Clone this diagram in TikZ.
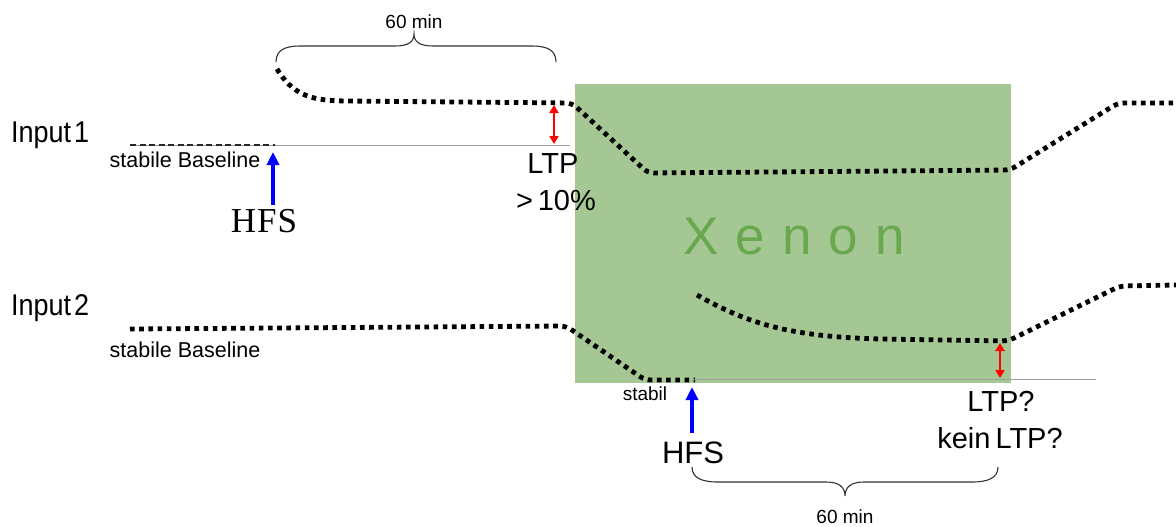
\documentclass[tikz,border=0pt]{standalone}
\usepackage{fontspec}
\setmainfont{Liberation Sans}
\newfontfamily\hfsfont{Liberation Serif}
\newfontfamily\narrowsans{Liberation Sans}[FakeStretch=0.9]
\usetikzlibrary{arrows.meta}

\definecolor{xenonfill}{RGB}{164,199,148}
\definecolor{xenontext}{RGB}{106,168,80}
\definecolor{refline}{RGB}{160,160,160}

\tikzset{
  trace/.style={line width=4.8pt, dash pattern=on 4.6pt off 4.6pt, black, rounded corners=6pt},
  finedots/.style={line width=2.6pt, dash pattern=on 6pt off 3.5pt, black!85},
  refbase/.style={draw=refline, line width=1pt},
  hfsarrow/.style={draw=blue, line width=3.4pt, -{Triangle[length=13pt,width=12pt]}},
  ltparrow/.style={draw=red, line width=2.6pt, {Triangle[length=8pt,width=9pt]}-{Triangle[length=8pt,width=9pt]}},
  bracket/.style={draw=black!80, line width=1.1pt},
  inputlbl/.style={font=\narrowsans\fontsize{30}{34}\selectfont, inner sep=0pt, anchor=west},
  biglbl/.style={font=\fontsize{29}{35}\selectfont, inner sep=0pt},
  smalllbl/.style={font=\fontsize{21.5}{24}\selectfont, inner sep=0pt},
  timelbl/.style={font=\fontsize{19}{22}\selectfont, inner sep=0pt}
}

\begin{document}
\begin{tikzpicture}[x=1pt,y=-1pt]
\useasboundingbox (0,0) rectangle (1176,527);

% Xenon application window
\fill[xenonfill] (575,84) rectangle (1011,383);
\node[font=\fontsize{53}{60}\selectfont, text=xenontext, inner sep=0pt] (xenon) at (794,237)
  {X\hspace{17pt}e\hspace{17pt}n\hspace{17pt}o\hspace{17pt}n};

% ---------- Input 1 ----------
\node[inputlbl] (in1) at (11,135) {Input\hspace{3pt}1};
\coordinate (b1s) at (130,145);
\coordinate (b1h) at (275,145);
\coordinate (b1e) at (570,145);
\draw[refbase] (b1s) -- (b1e);
\draw[finedots] (b1s) -- (b1h);
\node[smalllbl] (stab1) at (185,160) {stabile Baseline};

% response of input 1
\coordinate (t1a) at (277,69);
\coordinate (t1b) at (345,101);
\coordinate (t1c) at (572,103);
\coordinate (t1d) at (648,173);
\coordinate (t1e) at (1010,170);
\coordinate (t1f) at (1118,103);
\coordinate (t1g) at (1176,103);
\draw[trace] (t1a) .. controls (292,94) and (310,100) .. (t1b) -- (t1c) -- (t1d) -- (t1e) -- (t1f) -- (t1g);

% HFS on input 1
\node[font=\hfsfont\fontsize{35}{38}\selectfont, inner sep=0pt] (hfs1) at (264,221) {H\hspace{1pt}F\hspace{1pt}S};
\coordinate (h1top) at (273,152);
\coordinate (h1bot) at (273,205);
\draw[hfsarrow] (h1bot) -- (h1top);

% LTP magnitude on input 1
\coordinate (l1top) at (554,105);
\coordinate (l1bot) at (554,144);
\draw[ltparrow] (l1top) -- (l1bot);
\node[biglbl] (ltp1) at (553,164) {LTP};
\node[biglbl] (pct1) at (556,201) {>\,10\%};

% 60 min bracket above input 1
\coordinate (br1l) at (276,62);
\coordinate (br1r) at (556,62);
\coordinate (br1t) at (414,34);
\draw[bracket] (br1l) .. controls (276,50) and (285,46) .. (300,46) -- (395,46)
  .. controls (408,46) and (414,42) .. (br1t)
  .. controls (414,42) and (420,46) .. (433,46) -- (532,46)
  .. controls (547,46) and (556,50) .. (br1r);
\node[timelbl] (min1) at (414,22) {60 min};

% ---------- Input 2 ----------
\node[inputlbl] (in2) at (11,308) {Input\hspace{3pt}2};
\node[smalllbl] (stab2) at (185,350) {stabile Baseline};

\coordinate (t2a) at (130,329);
\coordinate (t2b) at (566,326);
\coordinate (t2c) at (645,380);
\coordinate (t2d) at (695,380);
\draw[trace] (t2a) -- (t2b) -- (t2c) -- (t2d);

\coordinate (b2s) at (692,379);
\coordinate (b2e) at (1096,379);
\draw[refbase] (b2s) -- (b2e);
\node[smalllbl, font=\fontsize{19}{22}\selectfont] (stabil) at (645,394) {stabil};

% response of input 2 after HFS
\coordinate (t3a) at (697,295);
\coordinate (t3b) at (880,339);
\coordinate (t3c) at (1008,341);
\coordinate (t3d) at (1120,286);
\coordinate (t3e) at (1176,285);
\draw[trace] (t3a) .. controls (745,322) and (785,336) .. (t3b) -- (t3c) -- (t3d) -- (t3e);

% HFS on input 2
\coordinate (h2top) at (692,387);
\coordinate (h2bot) at (692,433);
\draw[hfsarrow] (h2bot) -- (h2top);
\node[biglbl, font=\fontsize{31}{35}\selectfont] (hfs2) at (693,453) {HFS};

% LTP question on input 2
\coordinate (l2top) at (1000,343);
\coordinate (l2bot) at (1000,378);
\draw[ltparrow] (l2top) -- (l2bot);
\node[biglbl] (ltpq) at (1001,401) {LTP?};
\node[biglbl] (kein) at (1000,438) {kein\hspace{5pt}LTP?};

% 60 min bracket below input 2
\coordinate (br2l) at (692,467);
\coordinate (br2r) at (998,467);
\coordinate (br2t) at (845,496);
\draw[bracket] (br2l) .. controls (692,478) and (702,482) .. (718,482) -- (826,482)
  .. controls (839,482) and (845,487) .. (br2t)
  .. controls (845,487) and (851,482) .. (864,482) -- (972,482)
  .. controls (988,482) and (998,478) .. (br2r);
\node[timelbl] (min2) at (845,517) {60 min};
\end{tikzpicture}
\end{document}
